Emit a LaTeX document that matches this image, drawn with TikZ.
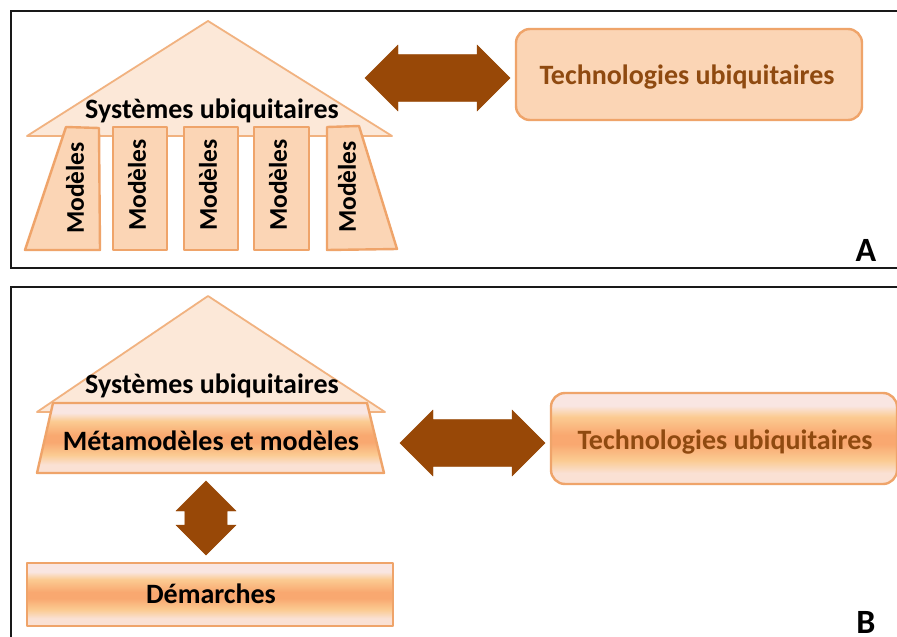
\documentclass[tikz,border=0pt]{standalone}
\usepackage{fontspec}
\setmainfont{Carlito}
\usetikzlibrary{shapes.arrows}
\definecolor{edgeor}{HTML}{EFA46A}
\definecolor{roofc}{HTML}{FCE8D8}
\definecolor{peach}{HTML}{FBD5B5}
\definecolor{brownar}{HTML}{984807}
\definecolor{techtxt}{HTML}{8F4A10}
\definecolor{palep}{HTML}{F9E6E2}
\definecolor{midl}{HTML}{FBCB92}
\definecolor{midd}{HTML}{F9A870}
\pgfdeclareverticalshading{bandshade}{100bp}{
 color(0bp)=(palep!70!peach); color(25bp)=(palep!70!peach); color(31bp)=(palep!70!peach);
 color(38bp)=(midl); color(47bp)=(midd); color(52bp)=(midd); color(62bp)=(midl); color(68bp)=(palep); color(75bp)=(palep); color(100bp)=(palep)}
\tikzset{
 frame/.style={draw=black!90,line width=1.8pt,fill=white},
 roofshape/.style={draw=edgeor!85,line width=1.8pt,fill=roofc,line join=round},
 pillar/.style={draw=edgeor,line width=2.4pt,fill=peach,line join=round},
 bandbox/.style={draw=edgeor,line width=2.4pt,shading=bandshade,line join=round},
 lbl/.style={font=\bfseries\fontsize{28}{28}\selectfont,text=black,inner sep=0pt},
 techlbl/.style={font=\bfseries\fontsize{28}{28}\selectfont,text=techtxt,inner sep=0pt},
 modlbl/.style={font=\bfseries\fontsize{25.5}{25.5}\selectfont,text=black,inner sep=0pt,rotate=90},
 letter/.style={font=\bfseries\fontsize{34}{34}\selectfont,text=black,inner sep=0pt},
 dblarrow/.style={shape=double arrow,fill=brownar,draw=brownar,line width=.4pt,inner sep=0pt,
   text height=34pt,text depth=0pt,text width=0pt,double arrow tip angle=90,double arrow head indent=0pt},
}
\begin{document}
\begin{tikzpicture}[x=1pt,y=-1pt]
\useasboundingbox (0,0) rectangle (897,637);
\fill[white] (0,0) rectangle (897,637);
% frames
\draw[frame] (10.7,11.3) rectangle (905,267.7);
\draw[frame] (10.7,287.3) rectangle (905,645);
% panel A
\draw[roofshape] (208,21) -- (392,136) -- (27,136) -- cycle;
\node[lbl] (sysA) at (212,111) {Systèmes ubiquitaires};
\draw[pillar] (66,127) -- (99,128) -- (100,250) -- (25,250) -- cycle;
\draw[pillar] (113,127) rectangle (167,250);
\draw[pillar] (184,127) rectangle (238,250);
\draw[pillar] (254,127) rectangle (309,250);
\draw[pillar] (327,127) -- (359,126) -- (397,249) -- (327,250) -- cycle;
\node[modlbl] (m1) at (75,188) {Modèles};
\node[modlbl] (m2) at (137,185) {Modèles};
\node[modlbl] (m3) at (208,185) {Modèles};
\node[modlbl] (m4) at (278,185) {Modèles};
\node[modlbl] (m5) at (347,187) {Modèles};
\node[dblarrow,minimum width=66pt,minimum height=145pt] (arrA) at (437.5,78) {};
\draw[draw=edgeor,line width=2.4pt,fill=peach,rounded corners=14pt] (516,29) rectangle (862,120);
\node[techlbl] (techA) at (687,77.5) {Technologies ubiquitaires};
\node[letter] (la) at (866,250) {A};
% panel B
\draw[roofshape] (208,296) -- (385,412) -- (37,412) -- cycle;
\node[lbl] (sysB) at (212,386) {Systèmes ubiquitaires};
\draw[bandbox] (53,403) -- (367,403) -- (384,473) -- (37,473) -- cycle;
\node[lbl] (meta) at (211,441) {Métamodèles et modèles};
\node[dblarrow,minimum width=60pt,minimum height=74pt,rotate=90] (arrV) at (206,518) {};
\draw[bandbox] (27,563) rectangle (393,626);
\node[lbl] (dem) at (211,594) {Démarches};
\node[dblarrow,minimum width=66pt,minimum height=145pt] (arrB) at (472.5,443) {};
\draw[bandbox,rounded corners=14pt] (551,393) rectangle (897,484);
\node[techlbl] (techB) at (725,442) {Technologies ubiquitaires};
\node[letter] (lb) at (866,622) {B};
\end{tikzpicture}
\end{document}
